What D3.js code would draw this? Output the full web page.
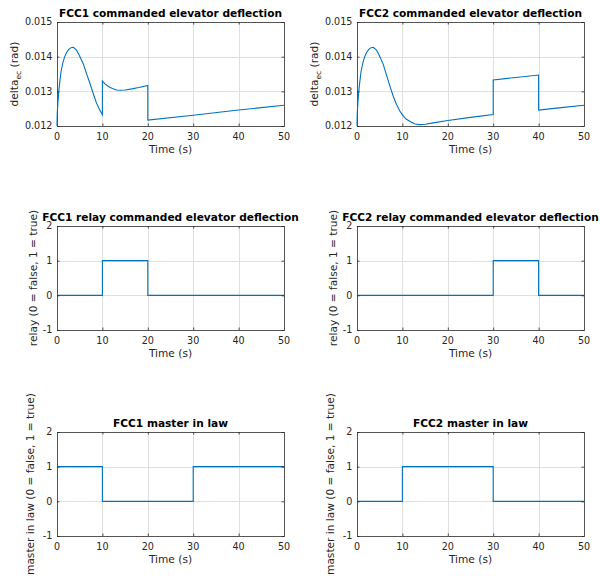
<!DOCTYPE html>
<html>
<head>
<meta charset="utf-8">
<script src="https://cdn.jsdelivr.net/npm/d3@7"></script>
<style>
  html, body { margin: 0; padding: 0; background: #fff; }
  svg { display: block; font-family: "DejaVu Sans", sans-serif; }
</style>
</head>
<body>
<svg id="chart" width="600" height="578"></svg>
<script>
// ---------------- data ----------------
const timeTicks = [0, 10, 20, 30, 40, 50];
const deltaTicks = [0.012, 0.013, 0.014, 0.015];
const deltaTickLabels = ["0.012", "0.013", "0.014", "0.015"];
const boolTicks = [-1, 0, 1, 2];
const boolTickLabels = ["-1", "0", "1", "2"];

const fcc1DeltaT = [0, 0.05, 0.2, 0.4, 0.6, 0.9, 1.3, 1.7, 2.1, 2.6, 3.1, 3.6, 4.3, 5.0, 5.8, 6.5, 7.3, 8.0, 8.7, 9.4, 10,
                    10, 10.5, 11.3, 12.2, 13.1, 14, 15, 16.5, 18, 20,
                    20, 30, 40, 50];
const fcc1DeltaV = [0.0120, 0.01235, 0.01268, 0.01300, 0.01326, 0.01358, 0.01383, 0.01400, 0.01412, 0.01421, 0.01426, 0.01427, 0.01419, 0.01401, 0.01379, 0.01351, 0.01321, 0.01293, 0.01266, 0.01247, 0.01233,
                    0.01330, 0.01322, 0.01314, 0.01308, 0.01304, 0.01303, 0.01304, 0.01307, 0.01311, 0.01317,
                    0.01217, 0.01231, 0.01246, 0.01260];

const fcc2DeltaT = [0, 0.05, 0.2, 0.4, 0.6, 0.9, 1.3, 1.7, 2.1, 2.6, 3.1, 3.6, 4.3, 5.0, 5.8, 6.5, 7.3, 8.0, 8.7, 9.4, 10,
                    10.8, 11.8, 12.8, 13.8, 15, 16.8, 20, 25, 30,
                    30, 35, 40,
                    40, 45, 50];
const fcc2DeltaV = [0.0120, 0.01235, 0.01268, 0.01300, 0.01326, 0.01358, 0.01383, 0.01400, 0.01412, 0.01421, 0.01426, 0.01427, 0.01419, 0.01401, 0.01377, 0.01347, 0.01313, 0.01285, 0.01262, 0.01244, 0.01232,
                    0.01220, 0.01212, 0.01206, 0.01204, 0.01205, 0.01209, 0.01216, 0.01225, 0.01233,
                    0.01333, 0.01340, 0.01347,
                    0.01246, 0.01253, 0.01260];

const fcc1RelayT = [0, 10, 20, 50];
const fcc1RelayV = [0, 1, 0, 0];
const fcc2RelayT = [0, 30, 40, 50];
const fcc2RelayV = [0, 1, 0, 0];
const fcc1MasterT = [0, 10, 30, 50];
const fcc1MasterV = [1, 0, 1, 1];
const fcc2MasterT = [0, 10, 30, 50];
const fcc2MasterV = [0, 1, 0, 0];

const titles = [
  "FCC1 commanded elevator deflection", "FCC2 commanded elevator deflection",
  "FCC1 relay commanded elevator deflection", "FCC2 relay commanded elevator deflection",
  "FCC1 master in law", "FCC2 master in law"
];

// ---------------- layout ----------------
const svg = d3.select("#chart");
const colX = [57, 357];
const plotW = 227;
const rowY = [22, 226, 432];
const plotH = 104;
const lineColor = "#0072BD";
const axisColor = "#262626";
const gridColor = "#dfdfdf";
const tickFont = 9.6;
const labelFont = 10.6;

const panels = [
  {row: 0, col: 0, t: fcc1DeltaT, v: fcc1DeltaV, kind: "delta", step: false},
  {row: 0, col: 1, t: fcc2DeltaT, v: fcc2DeltaV, kind: "delta", step: false},
  {row: 1, col: 0, t: fcc1RelayT, v: fcc1RelayV, kind: "relay", step: true},
  {row: 1, col: 1, t: fcc2RelayT, v: fcc2RelayV, kind: "relay", step: true},
  {row: 2, col: 0, t: fcc1MasterT, v: fcc1MasterV, kind: "master", step: true},
  {row: 2, col: 1, t: fcc2MasterT, v: fcc2MasterV, kind: "master", step: true}
];

panels.forEach((p, i) => {
  const x0 = colX[p.col], y0 = rowY[p.row];
  const g = svg.append("g").attr("transform", `translate(${x0},${y0})`);
  const x = d3.scaleLinear().domain([0, 50]).range([0, plotW]);
  let y, yt, ytl;
  if (p.kind === "delta") {
    y = d3.scaleLinear().domain([0.012, 0.015]).range([plotH, 0]);
    yt = deltaTicks; ytl = deltaTickLabels;
  } else {
    y = d3.scaleLinear().domain([-1, 2]).range([plotH, 0]);
    yt = boolTicks; ytl = boolTickLabels;
  }

  // grid
  g.append("g").selectAll("line.gx").data(timeTicks.slice(1, -1)).join("line")
    .attr("x1", d => Math.round(x(d)) + 0.5).attr("x2", d => Math.round(x(d)) + 0.5)
    .attr("y1", 0).attr("y2", plotH)
    .attr("stroke", gridColor).attr("stroke-width", 1);
  g.append("g").selectAll("line.gy").data(yt.slice(1, -1)).join("line")
    .attr("y1", d => Math.round(y(d)) + 0.5).attr("y2", d => Math.round(y(d)) + 0.5)
    .attr("x1", 0).attr("x2", plotW)
    .attr("stroke", gridColor).attr("stroke-width", 1);

  // data line
  const pts = p.t.map((t, k) => [t, p.v[k]]);
  const line = d3.line().x(d => x(d[0])).y(d => y(d[1]));
  if (p.step) line.curve(d3.curveStepAfter);
  g.append("path").datum(pts)
    .attr("d", line)
    .attr("fill", "none")
    .attr("stroke", lineColor)
    .attr("stroke-width", 1.1);

  // axes via d3 axis generators (ticks inward, labels drawn separately)
  const fmtX = d => String(d);
  const bottomAxis = d3.axisBottom(x).tickValues(timeTicks).tickSize(-2.5).tickFormat("");
  const topAxis = d3.axisTop(x).tickValues(timeTicks).tickSize(-2.5).tickFormat("");
  const leftAxis = d3.axisLeft(y).tickValues(yt).tickSize(-2.5).tickFormat("");
  const rightAxis = d3.axisRight(y).tickValues(yt).tickSize(-2.5).tickFormat("");
  const axes = [
    g.append("g").attr("transform", `translate(0,${plotH})`).call(bottomAxis),
    g.append("g").call(topAxis),
    g.append("g").call(leftAxis),
    g.append("g").attr("transform", `translate(${plotW},0)`).call(rightAxis)
  ];
  axes.forEach(a => {
    a.selectAll("path.domain").attr("stroke", "#555").attr("stroke-width", 1);
    a.selectAll(".tick line").attr("stroke", axisColor).attr("stroke-width", 0.8);
  });

  // x tick labels
  g.append("g").selectAll("text").data(timeTicks).join("text")
    .attr("x", d => x(d)).attr("y", plotH + 13.6)
    .attr("text-anchor", "middle")
    .attr("font-size", tickFont).attr("fill", axisColor)
    .text(fmtX);
  // y tick labels
  g.append("g").selectAll("text").data(yt).join("text")
    .attr("x", -4.6).attr("y", d => y(d))
    .attr("dy", "0.36em")
    .attr("text-anchor", "end")
    .attr("font-size", tickFont).attr("fill", axisColor)
    .text((d, k) => ytl[k]);

  // x label
  g.append("text")
    .attr("x", plotW / 2).attr("y", plotH + 27)
    .attr("text-anchor", "middle")
    .attr("font-size", labelFont).attr("fill", axisColor)
    .text("Time (s)");

  // y label
  const ylx = p.kind === "delta" ? 17.5 : (p.kind === "relay" ? 36.5 : 34);
  const yl = svg.append("text")
    .attr("transform", `translate(${ylx + (p.col ? 300 : 0)},${y0 + plotH / 2}) rotate(-90)`)
    .attr("text-anchor", "middle")
    .attr("font-size", labelFont).attr("fill", axisColor);
  if (p.kind === "delta") {
    yl.append("tspan").text("delta");
    yl.append("tspan").attr("font-size", 7.5).attr("dy", 3).text("ec");
    yl.append("tspan").attr("dy", -3).text(" (rad)");
  } else if (p.kind === "relay") {
    yl.text("relay (0 = false, 1 = true)");
  } else {
    yl.text("master in law (0 = false, 1 = true)");
  }

  // title
  const ty = p.row === 0 ? 17 : (p.row === 1 ? 221 : 427);
  svg.append("text")
    .attr("x", x0 + plotW / 2).attr("y", ty)
    .attr("text-anchor", "middle")
    .attr("font-size", labelFont).attr("font-weight", "bold").attr("fill", "#000")
    .text(titles[i]);
});
</script>
</body>
</html>
